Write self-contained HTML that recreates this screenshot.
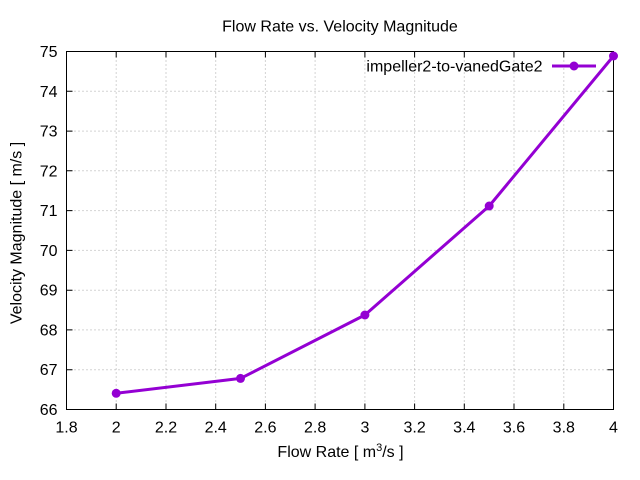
<!DOCTYPE html>
<html><head><meta charset="utf-8"><style>
html,body{margin:0;padding:0;background:#fff;}
svg{display:block;}
text{font-family:"Liberation Sans",Arial,sans-serif;font-size:16px;fill:#000;}
</style></head><body>
<svg width="640" height="480" viewBox="0 0 640 480" xmlns="http://www.w3.org/2000/svg">
<rect width="640" height="480" fill="#fff"/>
<g stroke="#a8a8a8" stroke-width="1" stroke-dasharray="1,3" fill="none">
<line x1="116.2" y1="409.5" x2="116.2" y2="51.5"/>
<line x1="166" y1="409.5" x2="166" y2="51.5"/>
<line x1="215.7" y1="409.5" x2="215.7" y2="51.5"/>
<line x1="265.4" y1="409.5" x2="265.4" y2="51.5"/>
<line x1="315.1" y1="409.5" x2="315.1" y2="51.5"/>
<line x1="364.9" y1="409.5" x2="364.9" y2="51.5"/>
<line x1="414.6" y1="409.5" x2="414.6" y2="51.5"/>
<line x1="464.3" y1="409.5" x2="464.3" y2="51.5"/>
<line x1="514" y1="409.5" x2="514" y2="51.5"/>
<line x1="563.8" y1="409.5" x2="563.8" y2="51.5"/>
<line x1="66.5" y1="369.7" x2="613.5" y2="369.7"/>
<line x1="66.5" y1="329.9" x2="613.5" y2="329.9"/>
<line x1="66.5" y1="290.2" x2="613.5" y2="290.2"/>
<line x1="66.5" y1="250.4" x2="613.5" y2="250.4"/>
<line x1="66.5" y1="210.6" x2="613.5" y2="210.6"/>
<line x1="66.5" y1="170.8" x2="613.5" y2="170.8"/>
<line x1="66.5" y1="131.1" x2="613.5" y2="131.1"/>
<line x1="66.5" y1="91.3" x2="613.5" y2="91.3"/>
</g>
<g stroke="#000" stroke-width="1" fill="none">
<rect x="66.5" y="51.5" width="547" height="358"/>
<!-- x ticks bottom & top -->
<path d="M116.2 409.5v-6M166 409.5v-6M215.7 409.5v-6M265.4 409.5v-6M315.1 409.5v-6M364.9 409.5v-6M414.6 409.5v-6M464.3 409.5v-6M514 409.5v-6M563.8 409.5v-6
M116.2 51.5v6M166 51.5v6M215.7 51.5v6M265.4 51.5v6M315.1 51.5v6M364.9 51.5v6M414.6 51.5v6M464.3 51.5v6M514 51.5v6M563.8 51.5v6"/>
<!-- y ticks left & right -->
<path d="M66.5 369.7h6M66.5 329.9h6M66.5 290.2h6M66.5 250.4h6M66.5 210.6h6M66.5 170.8h6M66.5 131.1h6M66.5 91.3h6
M613.5 369.7h-6M613.5 329.9h-6M613.5 290.2h-6M613.5 250.4h-6M613.5 210.6h-6M613.5 170.8h-6M613.5 131.1h-6M613.5 91.3h-6"/>
</g>
<g text-anchor="end">
<text x="57.5" y="415">66</text>
<text x="57.5" y="375.2">67</text>
<text x="57.5" y="335.4">68</text>
<text x="57.5" y="295.7">69</text>
<text x="57.5" y="255.9">70</text>
<text x="57.5" y="216.1">71</text>
<text x="57.5" y="176.3">72</text>
<text x="57.5" y="136.6">73</text>
<text x="57.5" y="96.8">74</text>
<text x="57.5" y="57">75</text>
</g>
<g text-anchor="middle">
<text x="66.5" y="432.5">1.8</text>
<text x="116.2" y="432.5">2</text>
<text x="166" y="432.5">2.2</text>
<text x="215.7" y="432.5">2.4</text>
<text x="265.4" y="432.5">2.6</text>
<text x="315.1" y="432.5">2.8</text>
<text x="364.9" y="432.5">3</text>
<text x="414.6" y="432.5">3.2</text>
<text x="464.3" y="432.5">3.4</text>
<text x="514" y="432.5">3.6</text>
<text x="563.8" y="432.5">3.8</text>
<text x="613.5" y="432.5">4</text>
</g>
<text x="340" y="31.5" text-anchor="middle">Flow Rate vs. Velocity Magnitude</text>
<text x="340.5" y="457" text-anchor="middle">Flow Rate [ m<tspan font-size="11" dy="-6">3</tspan><tspan dy="6">/s ]</tspan></text>
<text transform="translate(21.5,233) rotate(-90)" text-anchor="middle">Velocity Magnitude [ m/s ]</text>
<text x="542.5" y="71.5" text-anchor="end">impeller2-to-vanedGate2</text>
<g stroke="#9400d3" stroke-width="3" fill="none" stroke-linejoin="round">
<line x1="552" y1="66" x2="596" y2="66"/>
<polyline points="116.2,393.3 240.5,378.4 364.9,315 489.2,206 613.5,56"/>
</g>
<g fill="#9400d3">
<circle cx="574" cy="66" r="4.5"/>
<circle cx="116.2" cy="393.3" r="4.5"/>
<circle cx="240.5" cy="378.4" r="4.5"/>
<circle cx="364.9" cy="315" r="4.5"/>
<circle cx="489.2" cy="206" r="4.5"/>
<circle cx="613.5" cy="56" r="4.5"/>
</g>
</svg>
</body></html>
